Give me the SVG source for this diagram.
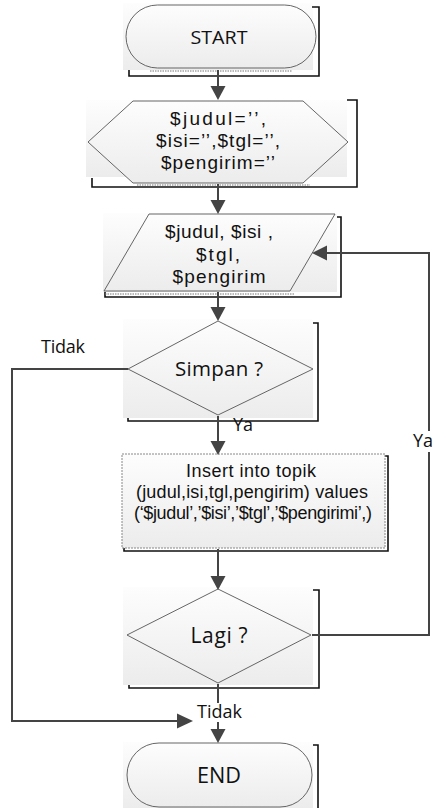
<svg xmlns="http://www.w3.org/2000/svg" width="434" height="808" viewBox="0 0 434 808">
<style>
.bg{fill:url(#g)}
.sh{fill:none;stroke:#111;stroke-width:1.6}
.sp{fill:url(#g);stroke:#555;stroke-width:0.9}
.dot{fill:none;stroke:#777;stroke-width:1;stroke-dasharray:1.5 1}
.t{font-family:"Open Sans","Liberation Sans",sans-serif;font-size:20px;fill:#111;text-anchor:middle}
.m{font-family:"Liberation Sans","Open Sans",sans-serif;font-size:19px}
.ins{font-family:"Liberation Sans","Open Sans",sans-serif;font-size:18px}
.lb{font-family:"Open Sans","Liberation Sans",sans-serif;font-size:18px;fill:#111}
.c{fill:none;stroke:#444;stroke-width:2}
.ah{fill:#444}
</style>
<defs>
<linearGradient id="g" x1="0" y1="0" x2="0" y2="1">
<stop offset="0" stop-color="#fdfdfd"/>
<stop offset="1" stop-color="#ececec"/>
</linearGradient>
</defs>
<rect width="434" height="808" fill="#fff"/>

<g id="start">
<rect class="bg" x="123" y="3" width="190" height="67"/>
<path class="sh" d="M312,7 H319 V76 H129 V70"/>
<line class="dot" x1="150" y1="71" x2="292" y2="71"/>
<rect class="sp" x="126" y="5" width="190" height="63" rx="31.5"/>
<text class="t" x="219" y="44" style="font-size:19px" textLength="57" lengthAdjust="spacingAndGlyphs">START</text>
</g>

<g id="init">
<rect class="bg" x="86" y="100" width="261" height="77"/>
<path class="sh" d="M347,100 H357 V187 H92 V178"/>
<line class="dot" x1="137" y1="185" x2="310" y2="185"/>
<polygon class="sp" points="88,142 133,101 303,101 348,142 303,183 133,183"/>
<text class="t m" x="218" y="125" textLength="96" lengthAdjust="spacing">$judul=’’,</text>
<text class="t m" x="218" y="147" textLength="124" lengthAdjust="spacing">$isi=’’,$tgl=’’,</text>
<text class="t m" x="218" y="169" textLength="114" lengthAdjust="spacing">$pengirim=’’</text>
</g>

<g id="input">
<rect class="bg" x="103" y="213" width="234" height="79"/>
<path class="sh" d="M337,217 H341 V297 H105 V292"/>
<line class="dot" x1="105" y1="294" x2="295" y2="294"/>
<polygon class="sp" points="149,214 335,214 290,291 104,291"/>
<text class="t m" x="219" y="238" textLength="108" lengthAdjust="spacing">$judul, $isi ,</text>
<text class="t m" x="218" y="261" textLength="44" lengthAdjust="spacing">$tgl,</text>
<text class="t m" x="219" y="283" textLength="93" lengthAdjust="spacing">$pengirim</text>
</g>

<g id="simpan">
<rect class="bg" x="123" y="319" width="190" height="99"/>
<path class="sh" d="M313,323 H318 V421 H128 V418"/>
<polygon class="sp" points="218,321 313,369 218,415 128,369"/>
<text class="t" x="219" y="376" style="font-size:20.5px" textLength="88" lengthAdjust="spacing">Simpan ?</text>
</g>

<g id="insert">
<path class="sh" d="M385,456 H388 V551 H124 V548"/>
<rect x="122" y="454" width="263" height="94" fill="url(#g)" stroke="#888" stroke-width="1" stroke-dasharray="2 1"/>
<text class="t ins" x="251" y="477" textLength="130" lengthAdjust="spacing">Insert into topik</text>
<text class="t ins" x="252" y="498" textLength="232" lengthAdjust="spacing">(judul,isi,tgl,pengirim) values</text>
<text class="t ins" x="253" y="519" textLength="238" lengthAdjust="spacing">(‘$judul’,’$isi’,’$tgl’,’$pengirimi’,)</text>
</g>

<g id="lagi">
<rect class="bg" x="123" y="587" width="190" height="98"/>
<path class="sh" d="M313,590 H319 V688 H129 V685"/>
<polygon class="sp" points="218,589 311,635 218,683 127,635"/>
<text class="t" x="219" y="643" style="font-size:21px" textLength="57" lengthAdjust="spacing">Lagi ?</text>
</g>

<g id="end">
<rect class="bg" x="123" y="742" width="190" height="66"/>
<path class="sh" d="M313,745 H318 V808"/>
<rect class="sp" x="127" y="743" width="185" height="64" rx="32"/>
<text class="t" x="219" y="783" style="font-size:21px" textLength="44" lengthAdjust="spacingAndGlyphs">END</text>
</g>

<g id="connectors">
<path class="c" d="M218,70 V88"/>
<polygon class="ah" points="210.5,86 225.5,86 218,100"/>
<path class="c" d="M218,184 V202"/>
<polygon class="ah" points="210.5,200 225.5,200 218,214"/>
<path class="c" d="M218,292 V309"/>
<polygon class="ah" points="210.5,307 225.5,307 218,321"/>
<path class="c" d="M218,416 V443"/>
<polygon class="ah" points="210.5,441 225.5,441 218,455"/>
<path class="c" d="M218,549 V578"/>
<polygon class="ah" points="210.5,576 225.5,576 218,590"/>
<path class="c" d="M218,684 V731"/>
<polygon class="ah" points="210.5,729 225.5,729 218,743"/>
<path class="c" d="M128,369 H12 V721 H180"/>
<polygon class="ah" points="177,713.5 177,728.5 193,721"/>
<path class="c" d="M312,635 H429 V253 H325"/>
<polygon class="ah" points="327,245.5 327,260.5 312,253"/>
<rect x="196" y="703" width="47" height="19" fill="#fff"/>
<rect x="413" y="431" width="21" height="21" fill="#fff"/>
<text class="lb" x="41" y="353" textLength="44" lengthAdjust="spacing">Tidak</text>
<text class="lb" x="233" y="431">Ya</text>
<text class="lb" x="197" y="718" textLength="45" lengthAdjust="spacing">Tidak</text>
<text class="lb" x="413" y="447">Ya</text>
</g>
</svg>
